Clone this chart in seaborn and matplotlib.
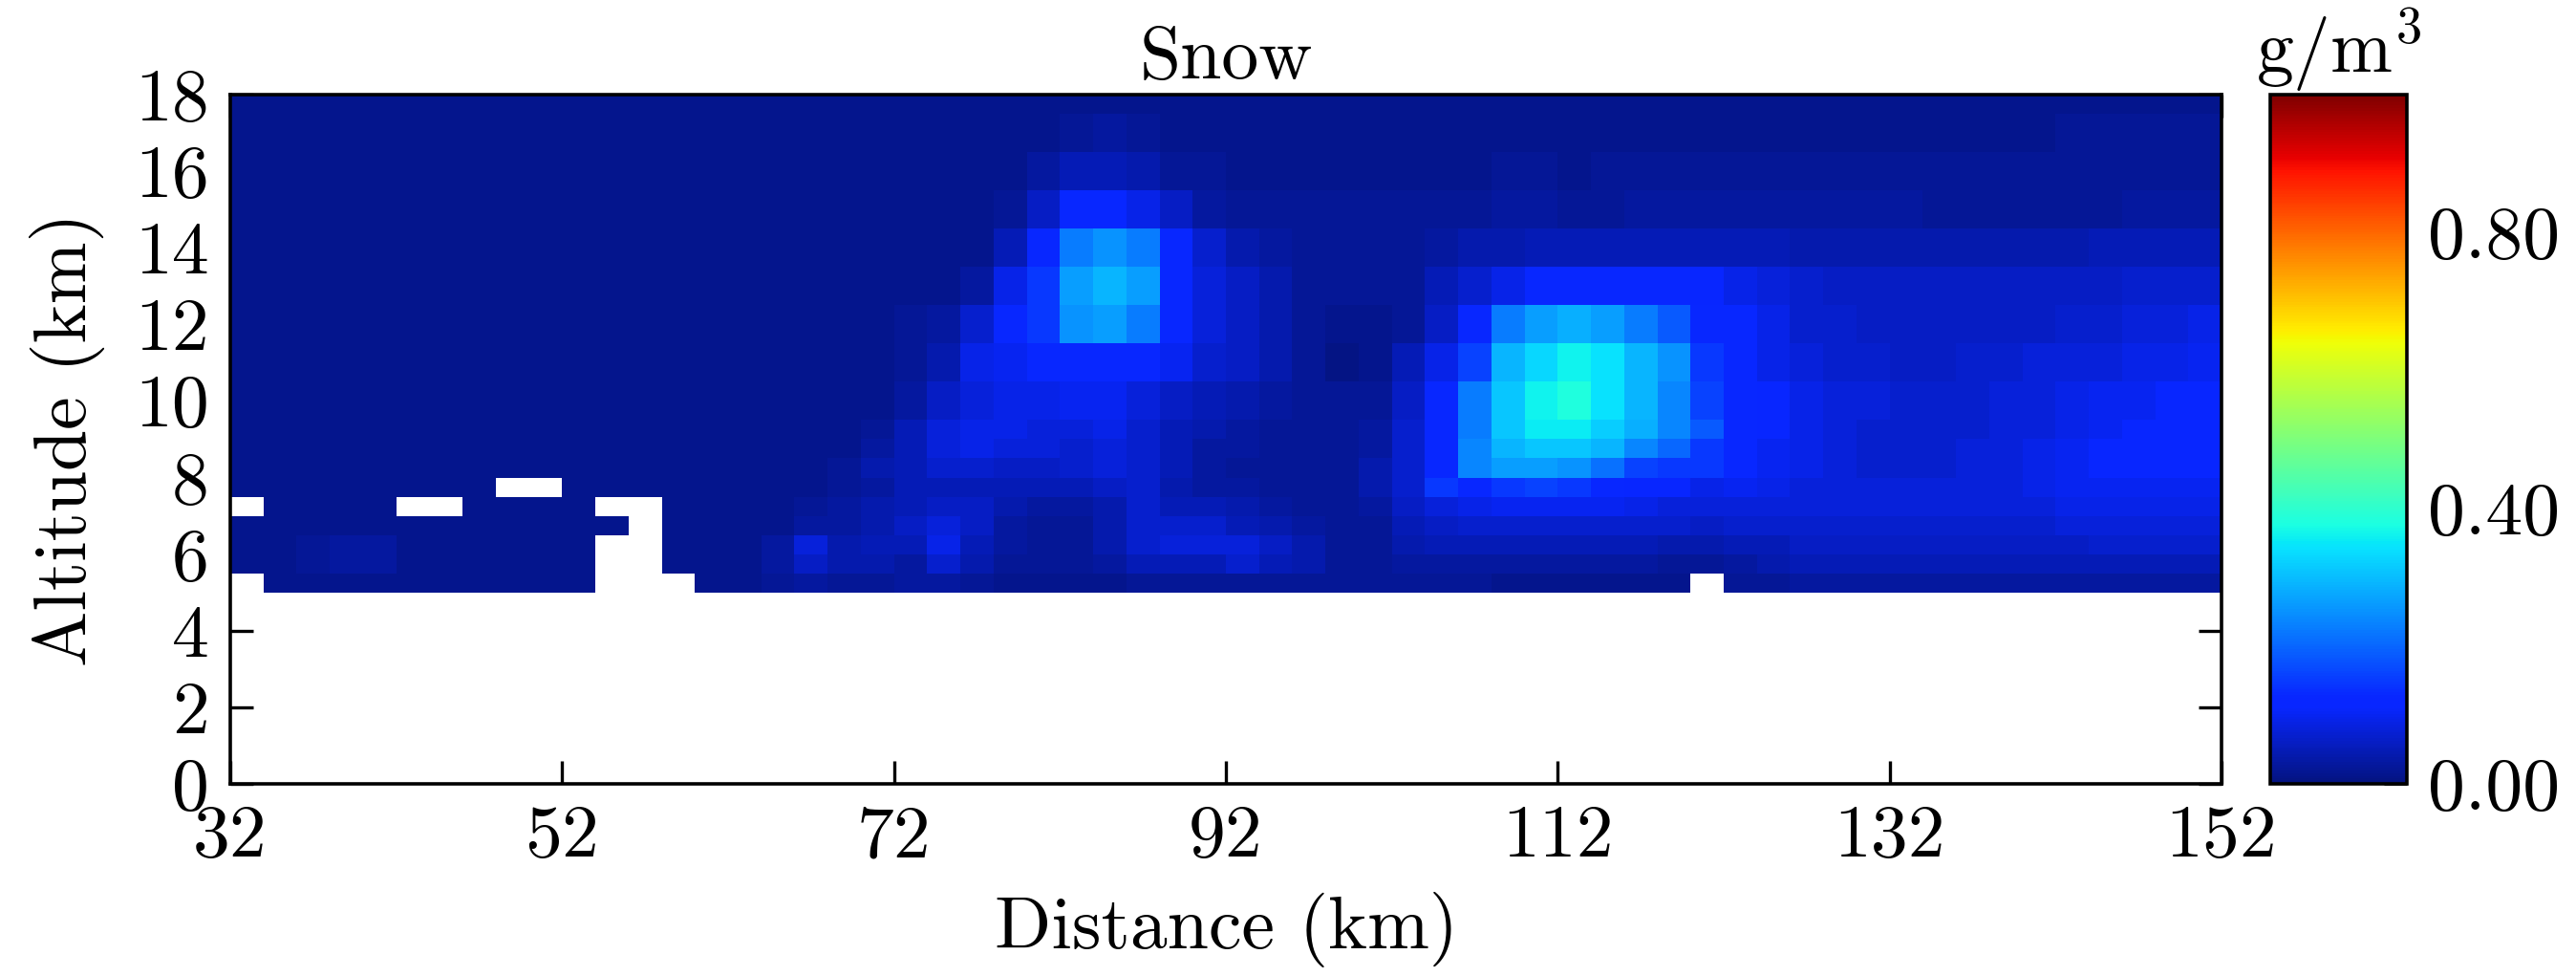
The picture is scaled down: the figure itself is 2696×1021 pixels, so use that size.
import numpy as np
import pandas as pd
import matplotlib
matplotlib.use("Agg")
import matplotlib.pyplot as plt
from matplotlib.colors import ListedColormap
import seaborn as sns

# ---------------- data ----------------
# distance cells: 2 km wide, from 32 to 152 km (60 columns)
distance_start_km = 32
distance_step_km = 2
n_columns = 60

# altitude edges of the model rows, top row first (upper edge, lower edge)
row_top_km = [18.0, 17.5, 16.5, 15.5, 14.5, 13.5, 12.5, 11.5, 10.5,
              9.5, 9.0, 8.5, 8.0, 7.5, 7.0, 6.5, 6.0, 5.5]
row_bottom_km = [17.5, 16.5, 15.5, 14.5, 13.5, 12.5, 11.5, 10.5, 9.5,
                 9.0, 8.5, 8.0, 7.5, 7.0, 6.5, 6.0, 5.5, 5.0]

# level codes -> snow content (g/m3); '.' = no data
level_codes = "0123456789abcdefghijklmnopqrstuvw"
level_values = [0.004, 0.012, 0.020, 0.030, 0.040, 0.050, 0.060, 0.070, 0.080, 0.090,
                0.100, 0.110, 0.125, 0.145, 0.160, 0.185, 0.200, 0.212, 0.225, 0.237,
                0.250, 0.262, 0.272, 0.282, 0.290, 0.300, 0.310, 0.320, 0.330, 0.340,
                0.352, 0.362, 0.380]

# one string per altitude row (top row first), one character per 2-km column
snow_rows = [
    "111111111111111" "11111" "1111111111" "1111111111" "1111111111" "1111111111",  # 17.5-18
    "111111111111111" "11111" "1111123211" "1111111111" "1111111111" "1111122222",  # 16.5-17.5
    "111111111111111" "11111" "1111355422" "1111111122" "1222222222" "2222222222",  # 15.5-16.5
    "111111111111111" "11111" "11126cc963" "2222222233" "2233333333" "3222222333",  # 14.5-15.5
    "111111111111111" "11111" "1115cikic7" "4322223445" "5555555444" "4444445555",  # 13.5-14.5
    "111111111111111" "11111" "1139dlolc8" "642222579c" "ccccb98766" "6666666777",  # 12.5-13.5
    "111111111111111" "11111" "237cdklic8" "6421126cil" "nlifcc9776" "6666677889",  # 11.5-12.5
    "111111111111111" "11111" "249acccca7" "6420159eos" "vtokdc9877" "667788899a",  # 10.5-11.5
    "111111111111111" "11111" "36899aa865" "432226ciqv" "wtojecb988" "777889aabb",  # 9.5-10.5
    "111111111111111" "11112" "5899889754" "322237ciqu" "urnjfcb987" "777889abbb",  # 9.0-9.5
    "111111111111111" "11113" "5898878753" "322237cjoq" "qojgdca987" "77889abbbb",  # 8.5-9.0
    "111111111111111" "11124" "5776678753" "222247cjll" "kheddca987" "77889abbbb",  # 8.0-8.5
    "11111111..11111" "11123" "5555556743" "322247dcde" "dcbb9a9888" "88889aaaaa",  # 7.5-8.0
    ".1111..1111..11" "11234" "5664334755" "43223689aa" "aa98888888" "8888899999",  # 7.0-7.5
    "111111111111.11" "11334" "6863224777" "5432256777" "7777677777" "7777788888",  # 6.5-7.0
    "11233111111..11" "13845" "5953224788" "8642245555" "5554455666" "6666667777",  # 6.0-6.5
    "11233111111..11" "13644" "3742223555" "7542233333" "3332234555" "5555555555",  # 5.5-6.0
    ".1111111111...1" "12322" "3321111222" "2222222211" "1111.22333" "3333333333",  # 5.0-5.5
]

x_ticks_km = [32, 52, 72, 92, 112, 132, 152]
y_ticks_km = [0, 2, 4, 6, 8, 10, 12, 14, 16, 18]
cbar_ticks = [0.0, 0.4, 0.8]
vmin, vmax = 0.0, 1.0

# ---------------- decode ----------------
lut = dict(zip(level_codes, level_values))
values = np.array([[lut.get(ch, np.nan) for ch in row] for row in snow_rows], dtype=float)
assert values.shape == (len(row_top_km), n_columns), values.shape

# regular 0.5 km display grid from 18 km (top) down to 0 km
half = 0.5
n_half = int(18 / half)
centers = 18 - half / 2 - half * np.arange(n_half)
grid = np.full((n_half, n_columns), np.nan)
for k, c in enumerate(centers):
    for i, (t, b) in enumerate(zip(row_top_km, row_bottom_km)):
        if b < c < t:
            grid[k] = values[i]
            break

col_labels = [distance_start_km + distance_step_km * (j + 0.5) for j in range(n_columns)]
df = pd.DataFrame(grid, index=centers, columns=col_labels)

# jet colour map, with the slight blue-green tint seen in the reference rendering
base = matplotlib.colormaps["jet"](np.linspace(0, 1, 256))[:, :3]
r, g, b = base[:, 0], base[:, 1], base[:, 2]
g2 = g + 0.15 * b * (1 - g)
r2 = r + 0.03 * b * (1 - r)
cmap = ListedColormap(np.column_stack([r2, g2, b]), name="jet_tinted")

# ---------------- style ----------------
sns.set_theme(style="ticks", rc={
    "axes.edgecolor": "black", "axes.labelcolor": "black", "text.color": "black",
    "xtick.color": "black", "ytick.color": "black",
})
plt.rcParams["font.family"] = ["cmr10", "DejaVu Serif"]
plt.rcParams["mathtext.fontset"] = "cm"
plt.rcParams["axes.formatter.use_mathtext"] = True
plt.rcParams["axes.unicode_minus"] = False

FS = 28

fig = plt.figure(figsize=(13.48, 5.105), dpi=200)
ax = fig.add_axes([0.0894, 0.1969, 0.7730, 0.7062])
cax = fig.add_axes([0.8813, 0.1969, 0.0530, 0.7062])

sns.heatmap(df, ax=ax, cbar_ax=cax, cmap=cmap, vmin=vmin, vmax=vmax,
            xticklabels=False, yticklabels=False,
            cbar_kws={"ticks": cbar_ticks, "format": "%.2f"})

# axes ticks in heatmap cell coordinates
ax.set_xticks([(v - distance_start_km) / distance_step_km for v in x_ticks_km])
ax.set_xticklabels([str(v) for v in x_ticks_km], fontsize=FS)
ax.set_yticks([(18 - v) / half for v in y_ticks_km])
ax.set_yticklabels([str(v) for v in y_ticks_km], fontsize=FS)
ax.set_xlim(0, n_columns)
ax.set_ylim(n_half, 0)

for s in ax.spines.values():
    s.set_visible(True)
    s.set_linewidth(1.3)
    s.set_color("black")

ax.tick_params(axis="both", direction="in", top=True, right=True,
               length=8.6, width=1.2, pad=8, labelsize=FS)
ax.set_xlabel("Distance (km)", fontsize=FS, labelpad=8)
ax.set_ylabel("Altitude (km)", fontsize=FS, labelpad=11)
ax.set_title("Snow", fontsize=FS, pad=6)

cb = ax.collections[0].colorbar
cb.outline.set_visible(True)
cb.outline.set_linewidth(1.3)
cb.outline.set_edgecolor("black")
cax.tick_params(direction="in", length=8.6, width=1.0, right=True, left=False,
                labelright=True, labelleft=False, pad=8, labelsize=FS)
cax.set_title("g/m$^3$", fontsize=FS, pad=6)

fig.savefig("out.png", dpi=200)
